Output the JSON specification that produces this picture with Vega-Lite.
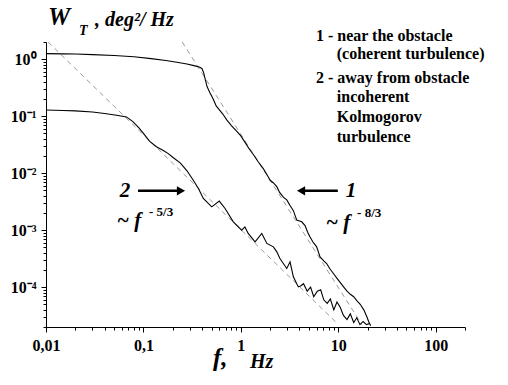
{
  "$schema": "https://vega.github.io/schema/vega-lite/v6.json",
  "autosize": "none",
  "width": 419,
  "height": 285,
  "padding": {"left": 46, "top": 42, "right": 43, "bottom": 58},
  "background": "white",
  "config": {"view": {"stroke": null}, "font": "'Liberation Serif', 'Times New Roman', serif"},
  "layer": [
    {
      "data": {"values": [
        {"s": "d1", "f": 0.0105, "w": 2.0},
        {"s": "d1", "f": 9.8, "w": 0.000023},
        {"s": "d2", "f": 0.25, "w": 2.0},
        {"s": "d2", "f": 17.5, "w": 0.000022}
      ]},
      "mark": {"type": "line", "color": "#9a9a9a", "strokeWidth": 1, "strokeDash": [5, 4], "clip": true},
      "encoding": {
        "x": {"field": "f", "type": "quantitative",
          "scale": {"type": "log", "domain": [0.01, 200], "nice": false},
          "axis": {
            "values": [0.01,0.02,0.03,0.04,0.05,0.06,0.07,0.08,0.09,0.1,0.2,0.3,0.4,0.5,0.6,0.7,0.8,0.9,1,2,3,4,5,6,7,8,9,10,20,30,40,50,60,70,80,90,100,200],
            "labelExpr": "datum.value == 0.01 ? '0,01' : datum.value == 0.1 ? '0,1' : datum.value == 1 ? '1' : datum.value == 10 ? '10' : datum.value == 100 ? '100' : ''",
            "tickSize": {"condition": {"test": "abs(log(datum.value)/LN10 - round(log(datum.value)/LN10)) < 0.000001", "value": 5}, "value": 3},
            "title": null, "grid": false, "domainColor": "black", "tickColor": "black",
            "labelFont": "'Liberation Serif', 'Times New Roman', serif", "labelFontWeight": "bold", "labelFontSize": 16, "labelColor": "black",
            "labelPadding": 5, "labelFlush": false, "labelOverlap": false
          }},
        "y": {"field": "w", "type": "quantitative",
          "scale": {"type": "log", "domain": [0.00002, 2], "nice": false},
          "axis": {
            "values": [0.00002,0.00003,0.00004,0.00005,0.00006,0.00007,0.00008,0.00009,0.0001,0.0002,0.0003,0.0004,0.0005,0.0006,0.0007,0.0008,0.0009,0.001,0.002,0.003,0.004,0.005,0.006,0.007,0.008,0.009,0.01,0.02,0.03,0.04,0.05,0.06,0.07,0.08,0.09,0.1,0.2,0.3,0.4,0.5,0.6,0.7,0.8,0.9,1,2],
            "labelExpr": "abs(datum.value - 1) < 1e-9 ? '10⁰' : abs(datum.value - 0.1) < 1e-9 ? '10⁻¹' : abs(datum.value - 0.01) < 1e-9 ? '10⁻²' : abs(datum.value - 0.001) < 1e-9 ? '10⁻³' : abs(datum.value - 0.0001) < 1e-10 ? '10⁻⁴' : ''",
            "tickSize": {"condition": {"test": "abs(log(datum.value)/LN10 - round(log(datum.value)/LN10)) < 0.000001", "value": 5}, "value": 3},
            "title": null, "grid": false, "domainColor": "black", "tickColor": "black",
            "labelFont": "'Liberation Serif', 'Times New Roman', serif", "labelFontWeight": "bold", "labelFontSize": 16, "labelColor": "black",
            "labelPadding": 5, "labelFlush": false, "labelOverlap": false
          }},
        "detail": {"field": "s"}
      }
    },
    {
      "data": {"values": [
        {"s":"c1","f":0.01,"w":1.25},{"s":"c1","f":0.015,"w":1.24},{"s":"c1","f":0.02,"w":1.23},{"s":"c1","f":0.03,"w":1.2},
        {"s":"c1","f":0.05,"w":1.16},{"s":"c1","f":0.08,"w":1.1},{"s":"c1","f":0.12,"w":1.02},{"s":"c1","f":0.17,"w":0.95},
        {"s":"c1","f":0.22,"w":0.88},{"s":"c1","f":0.28,"w":0.82},{"s":"c1","f":0.33,"w":0.77},{"s":"c1","f":0.38,"w":0.72},
        {"s":"c1","f":0.4,"w":0.68},{"s":"c1","f":0.415,"w":0.58},{"s":"c1","f":0.43,"w":0.45},{"s":"c1","f":0.45,"w":0.33},
        {"s":"c1","f":0.48,"w":0.26},{"s":"c1","f":0.52,"w":0.2},{"s":"c1","f":0.56,"w":0.15},{"s":"c1","f":0.6,"w":0.13},
        {"s":"c1","f":0.65,"w":0.11},{"s":"c1","f":0.72,"w":0.085},{"s":"c1","f":0.8,"w":0.068},{"s":"c1","f":0.9,"w":0.055},
        {"s":"c1","f":1.0,"w":0.045},{"s":"c1","f":1.1,"w":0.035},{"s":"c1","f":1.23,"w":0.026},{"s":"c1","f":1.35,"w":0.021},
        {"s":"c1","f":1.5,"w":0.016},{"s":"c1","f":1.7,"w":0.012},{"s":"c1","f":1.85,"w":0.0095},{"s":"c1","f":2.0,"w":0.0075},
        {"s":"c1","f":2.15,"w":0.0068},{"s":"c1","f":2.34,"w":0.0058},{"s":"c1","f":2.5,"w":0.0046},{"s":"c1","f":2.73,"w":0.0038},
        {"s":"c1","f":2.96,"w":0.0034},{"s":"c1","f":3.2,"w":0.0027},{"s":"c1","f":3.46,"w":0.0022},{"s":"c1","f":3.75,"w":0.0015},
        {"s":"c1","f":4.0,"w":0.00145},{"s":"c1","f":4.22,"w":0.0014},{"s":"c1","f":4.56,"w":0.0012},{"s":"c1","f":4.85,"w":0.00092},
        {"s":"c1","f":5.13,"w":0.00076},{"s":"c1","f":5.5,"w":0.00062},{"s":"c1","f":6.0,"w":0.00051},{"s":"c1","f":6.5,"w":0.00034},
        {"s":"c1","f":7.1,"w":0.00029},{"s":"c1","f":7.6,"w":0.00026},{"s":"c1","f":8.2,"w":0.00021},
        {"s":"c1","f":9.0,"w":0.00017},{"s":"c1","f":9.8,"w":0.00014},{"s":"c1","f":10.5,"w":0.00012},{"s":"c1","f":11.4,"w":0.0001},
        {"s":"c1","f":12.3,"w":0.000085},{"s":"c1","f":13.3,"w":0.000075},{"s":"c1","f":14.4,"w":0.000068},{"s":"c1","f":15.5,"w":0.000058},
        {"s":"c1","f":16.8,"w":0.00005},{"s":"c1","f":18.3,"w":0.00004},{"s":"c1","f":19.7,"w":0.00003},{"s":"c1","f":20.5,"w":0.000025},
        {"s":"c1","f":21.5,"w":0.000021},
        {"s":"c2","f":0.01,"w":0.128},{"s":"c2","f":0.015,"w":0.126},{"s":"c2","f":0.02,"w":0.124},{"s":"c2","f":0.03,"w":0.118},
        {"s":"c2","f":0.04,"w":0.111},{"s":"c2","f":0.053,"w":0.104},{"s":"c2","f":0.067,"w":0.097},{"s":"c2","f":0.078,"w":0.08},
        {"s":"c2","f":0.09,"w":0.062},{"s":"c2","f":0.1,"w":0.05},{"s":"c2","f":0.116,"w":0.036},{"s":"c2","f":0.136,"w":0.029},
        {"s":"c2","f":0.16,"w":0.025},{"s":"c2","f":0.18,"w":0.022},{"s":"c2","f":0.2,"w":0.019},{"s":"c2","f":0.24,"w":0.015},
        {"s":"c2","f":0.28,"w":0.011},{"s":"c2","f":0.325,"w":0.0075},{"s":"c2","f":0.367,"w":0.0054},{"s":"c2","f":0.412,"w":0.0036},
        {"s":"c2","f":0.502,"w":0.00256},{"s":"c2","f":0.601,"w":0.00323},{"s":"c2","f":0.689,"w":0.0024},{"s":"c2","f":0.837,"w":0.0014},
        {"s":"c2","f":1.02,"w":0.001},{"s":"c2","f":1.1,"w":0.00114},{"s":"c2","f":1.19,"w":0.000875},{"s":"c2","f":1.4,"w":0.000624},
        {"s":"c2","f":1.64,"w":0.000875},{"s":"c2","f":1.85,"w":0.000585},{"s":"c2","f":2.16,"w":0.00051},{"s":"c2","f":2.34,"w":0.000416},
        {"s":"c2","f":2.52,"w":0.000319},{"s":"c2","f":2.73,"w":0.00026},{"s":"c2","f":2.96,"w":0.000213},{"s":"c2","f":3.2,"w":0.000278},
        {"s":"c2","f":3.46,"w":0.000152},{"s":"c2","f":3.89,"w":0.000101},
        {"s":"c2","f":4.1,"w":0.000105},{"s":"c2","f":4.4,"w":0.000115},{"s":"c2","f":4.8,"w":0.000085},{"s":"c2","f":5.2,"w":0.0001},
        {"s":"c2","f":5.6,"w":0.000068},{"s":"c2","f":6.1,"w":0.000085},{"s":"c2","f":6.6,"w":0.00009},{"s":"c2","f":7.1,"w":0.00006},
        {"s":"c2","f":7.7,"w":0.000052},{"s":"c2","f":8.3,"w":0.000062},{"s":"c2","f":9.0,"w":0.00004},{"s":"c2","f":9.7,"w":0.000055},
        {"s":"c2","f":10.5,"w":0.000044},{"s":"c2","f":11.3,"w":0.000032},{"s":"c2","f":12.3,"w":0.000027},{"s":"c2","f":13.3,"w":0.000034},
        {"s":"c2","f":14.4,"w":0.000024},{"s":"c2","f":15.5,"w":0.000029},{"s":"c2","f":16.7,"w":0.000022},{"s":"c2","f":18,"w":0.000025},
        {"s":"c2","f":19.5,"w":0.000022},{"s":"c2","f":21,"w":0.000023}
      ]},
      "mark": {"type": "line", "color": "black", "strokeWidth": 1.1, "clip": true},
      "encoding": {
        "x": {"field": "f", "type": "quantitative"},
        "y": {"field": "w", "type": "quantitative"},
        "detail": {"field": "s"}
      }
    },
    {
      "data": {"values": [
        {"f": 0.088, "f2": 0.243, "w": 0.00489},
        {"f": 4.15, "f2": 9.9, "w": 0.00489}
      ]},
      "mark": {"type": "rule", "color": "black", "strokeWidth": 2.5},
      "encoding": {
        "x": {"field": "f", "type": "quantitative"},
        "x2": {"field": "f2"},
        "y": {"field": "w", "type": "quantitative"}
      }
    },
    {
      "data": {"values": [{"f": 0.243, "w": 0.00489}]},
      "mark": {"type": "point", "shape": "triangle-right", "filled": true, "color": "black", "opacity": 1, "size": 90},
      "encoding": {"x": {"field": "f", "type": "quantitative"}, "y": {"field": "w", "type": "quantitative"}}
    },
    {
      "data": {"values": [{"f": 4.15, "w": 0.00489}]},
      "mark": {"type": "point", "shape": "triangle-left", "filled": true, "color": "black", "opacity": 1, "size": 90},
      "encoding": {"x": {"field": "f", "type": "quantitative"}, "y": {"field": "w", "type": "quantitative"}}
    },
    {
      "data": {"values": [
        {"f": 5.9, "w": 2.53, "t": "1 - near the obstacle"},
        {"f": 9.66, "w": 1.22, "t": "(coherent turbulence)"},
        {"f": 5.9, "w": 0.464, "t": "2 - away from obstacle"},
        {"f": 9.66, "w": 0.215, "t": "incoherent"},
        {"f": 9.66, "w": 0.096, "t": "Kolmogorov"},
        {"f": 9.66, "w": 0.0428, "t": "turbulence"}
      ]},
      "mark": {"type": "text", "font": "'Liberation Serif', 'Times New Roman', serif", "fontWeight": "bold", "fontSize": 16, "align": "left", "baseline": "middle", "color": "black"},
      "encoding": {"x": {"field": "f", "type": "quantitative"}, "y": {"field": "w", "type": "quantitative"}, "text": {"field": "t"}}
    },
    {
      "data": {"values": [
        {"f": 0.0648, "w": 0.00489, "t": "2"},
        {"f": 13.5, "w": 0.00489, "t": "1"}
      ]},
      "mark": {"type": "text", "font": "'Liberation Serif', 'Times New Roman', serif", "fontWeight": "bold", "fontStyle": "italic", "fontSize": 21, "align": "center", "baseline": "middle", "color": "black"},
      "encoding": {"x": {"field": "f", "type": "quantitative"}, "y": {"field": "w", "type": "quantitative"}, "text": {"field": "t"}}
    },
    {
      "data": {"values": [
        {"f": 0.0536, "w": 0.00144, "t": "~ f"},
        {"f": 7.5, "w": 0.00133, "t": "~ f"}
      ]},
      "mark": {"type": "text", "font": "'Liberation Serif', 'Times New Roman', serif", "fontWeight": "bold", "fontStyle": "italic", "fontSize": 21, "align": "left", "baseline": "middle", "color": "black"},
      "encoding": {"x": {"field": "f", "type": "quantitative"}, "y": {"field": "w", "type": "quantitative"}, "text": {"field": "t"}}
    },
    {
      "data": {"values": [
        {"f": 0.114, "w": 0.00207, "t": "- 5/3"},
        {"f": 15.6, "w": 0.00199, "t": "- 8/3"}
      ]},
      "mark": {"type": "text", "font": "'Liberation Serif', 'Times New Roman', serif", "fontWeight": "bold", "fontSize": 13, "align": "left", "baseline": "middle", "color": "black"},
      "encoding": {"x": {"field": "f", "type": "quantitative"}, "y": {"field": "w", "type": "quantitative"}, "text": {"field": "t"}}
    },
    {
      "data": {"values": [
        {"f": 0.01048, "w": 5.45, "t": "W"},
        {"f": 0.518, "w": 0.00000568, "t": "f,"}
      ]},
      "mark": {"type": "text", "font": "'Liberation Serif', 'Times New Roman', serif", "fontWeight": "bold", "fontStyle": "italic", "fontSize": 25, "align": "left", "baseline": "middle", "color": "black"},
      "encoding": {"x": {"field": "f", "type": "quantitative"}, "y": {"field": "w", "type": "quantitative"}, "text": {"field": "t"}}
    },
    {
      "data": {"values": [
        {"f": 0.0218, "w": 3.1, "t": "T"}
      ]},
      "mark": {"type": "text", "font": "'Liberation Serif', 'Times New Roman', serif", "fontWeight": "bold", "fontStyle": "italic", "fontSize": 14, "align": "left", "baseline": "middle", "color": "black"},
      "encoding": {"x": {"field": "f", "type": "quantitative"}, "y": {"field": "w", "type": "quantitative"}, "text": {"field": "t"}}
    },
    {
      "data": {"values": [
        {"f": 0.0319, "w": 4.83, "t": ",  deg²/ Hz"},
        {"f": 1.243, "w": 0.00000483, "t": "Hz"}
      ]},
      "mark": {"type": "text", "font": "'Liberation Serif', 'Times New Roman', serif", "fontWeight": "bold", "fontStyle": "italic", "fontSize": 20, "align": "left", "baseline": "middle", "color": "black"},
      "encoding": {"x": {"field": "f", "type": "quantitative"}, "y": {"field": "w", "type": "quantitative"}, "text": {"field": "t"}}
    }
  ]
}
